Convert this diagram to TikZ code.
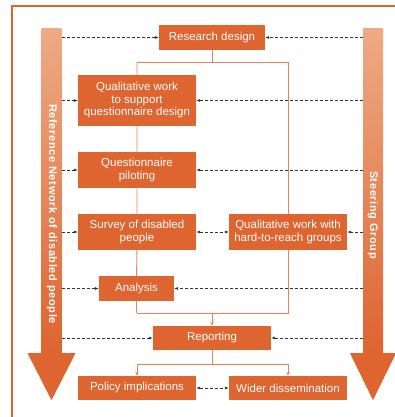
\documentclass[tikz,border=0pt]{standalone}
\usepackage{fontspec}
\setmainfont{Liberation Sans}
\newfontfamily\arrowfont[LetterSpace=6]{Liberation Sans}
\usetikzlibrary{positioning}
\usetikzlibrary{arrows.meta}
\definecolor{boxorange}{RGB}{222,100,48}
\definecolor{lineorange}{RGB}{234,128,86}
\definecolor{lightorange}{RGB}{238,170,132}

\begin{document}
\begin{tikzpicture}[x=1pt, y=-1pt,
	box/.style={fill=boxorange, text=white, align=center, inner sep=0pt, minimum width=118pt, font=\fontsize{11.5}{12.5}\selectfont},
	link/.style={draw=lineorange, line width=0.9pt, >={Stealth[length=4pt,width=3.5pt]}},
	feed/.style={draw=black!80, line width=0.6pt, dash pattern=on 3pt off 2pt, >={Latex[length=4pt,width=3pt]}, ->},
	shaft/.style={top color=lightorange, bottom color=boxorange, minimum width=20pt, inner sep=0pt},
	bigtext/.style={rotate=-90, text=white, font=\arrowfont\bfseries\fontsize{11}{12}\selectfont}]
	\useasboundingbox (0,0) rectangle (395,417);
	\draw[boxorange, line width=1.5pt] (400,6) -- (12,6) -- (12,420);

	\node[shaft, minimum height=324pt] (ref) at (51.5,191) {};
	\fill[boxorange] ([xshift=-24pt]ref.south) -- ([xshift=24pt]ref.south) -- ([yshift=-47pt]ref.south) -- cycle;
	\node[bigtext] (reftext) at (52,214) {Reference Network of disabled people};
	\node[shaft, minimum height=324pt] (steer) at (373,191) {};
	\fill[boxorange] ([xshift=-23pt]steer.south) -- ([xshift=23pt]steer.south) -- ([yshift=-47pt]steer.south) -- cycle;
	\node[bigtext] (steertext) at (373,215) {Steering Group};

	\node[box, minimum width=106pt, minimum height=25pt] (rd) at (212,37.5) {Research design};
	\node[box, minimum height=51pt] (qs) at (137,100.5) {Qualitative work\\to support\\questionnaire design};
	\node[box, minimum height=36pt] (qp) at (137,170) {Questionnaire\\piloting};
	\node[box, minimum height=36pt] (sv) at (137,232) {Survey of disabled\\people};
	\node[box, minimum height=36pt] (hr) at (288,232) {Qualitative work with\\hard-to-reach groups};
	\node[box, minimum width=75pt, minimum height=25pt] (an) at (136.5,288.5) {Analysis};
	\node[box, minimum height=24pt] (rp) at (212,338) {Reporting};
	\node[box, minimum height=24pt] (pi) at (137,388) {Policy implications};
	\node[box, minimum height=24pt] (wd) at (288,388) {Wider dissemination};

	\draw[link] (rd.south) -- ++(0,12) coordinate (split);
	\draw[link] (qs.north |- split) -- (hr.north |- split);
	\draw[link] (qs.north |- split) -- (qs.north) (qs) -- (qp) (qp) -- (sv) (sv) -- (an);
	\draw[link] (an.south) -- ++(0,12) coordinate (merge);
	\draw[link] (hr.north |- split) -- (hr.north) (hr.south) -- (hr.south |- merge) -- (an.south |- merge);
	\draw[link,->] (rp.north |- merge) -- (rp.north);
	\draw[link] (rp.south) -- ++(0,14) coordinate (fan);
	\draw[link] (pi.north |- fan) -- (wd.north |- fan);
	\draw[link,->] (pi.north |- fan) -- (pi.north);
	\draw[link,->] (wd.north |- fan) -- (wd.north);

	\foreach \n in {rd,qs,qp,sv,an,rp}
		\draw[feed] (ref.east |- \n) -- (\n.west);
	\foreach \n in {rd,qs,qp,hr,an,rp}
		\draw[feed] (steer.west |- \n) -- (\n.east);
	\draw[feed,<->] (sv) -- (hr);
	\draw[feed,<->] (pi) -- (wd);
\end{tikzpicture}
\end{document}
